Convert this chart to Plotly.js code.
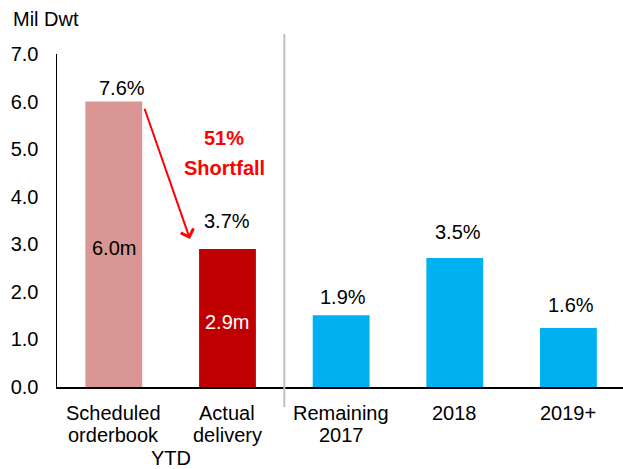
<!DOCTYPE html>
<html>
<head>
<meta charset="utf-8">
<script src="https://cdn.plot.ly/plotly-3.0.1.min.js"></script>
<style>
  html, body { margin: 0; padding: 0; background: #fff; }
  #chart { width: 623px; height: 469px; }
</style>
</head>
<body>
<div id="chart"></div>
<script>
// Data
const categories = ['Scheduled orderbook', 'Actual delivery', 'Remaining 2017', '2018', '2019+'];
const categoryLines = [['Scheduled', 'orderbook'], ['Actual', 'delivery'], ['Remaining', '2017'], ['2018'], ['2019+']];
const values = [6.0, 2.9, 1.51, 2.71, 1.24];
const pctLabels = ['7.6%', '3.7%', '1.9%', '3.5%', '1.6%'];
const innerLabels = ['6.0m', '2.9m', '', '', ''];
const barColors = ['#D99694', '#C00000', '#00B0F0', '#00B0F0', '#00B0F0'];
const innerColors = ['#000000', '#FFFFFF', '#000000', '#000000', '#000000'];

// label offsets above the bars (px)
const pctShiftY = [14, 28, 18, 26, 23];
const pctShiftX = [8, 0, 2, 3, 3];

const FONT = 'Arial, "Liberation Sans", sans-serif';

const trace = {
    type: 'bar',
    x: categories,
    y: values,
    width: 0.5,
    marker: { color: barColors, line: { width: 0 } },
    hoverinfo: 'skip'
};

const annotations = [];

// category axis: annotations use the category index, so '2018' is not read as a number
categories.forEach((c, i) => {
    annotations.push({
        x: i, y: values[i], xref: 'x', yref: 'y',
        text: pctLabels[i], showarrow: false,
        yanchor: 'middle', yshift: pctShiftY[i], xshift: pctShiftX[i],
        font: { family: FONT, size: 20, color: '#000' }
    });
    if (innerLabels[i]) {
        annotations.push({
            x: i, y: values[i] / 2, xref: 'x', yref: 'y',
            text: innerLabels[i], showarrow: false,
            yanchor: 'middle', yshift: -4,
            font: { family: FONT, size: 20, color: innerColors[i] }
        });
    }
    // category labels, one annotation per line
    categoryLines[i].forEach((line, j) => {
        annotations.push({
            x: i, y: 0, xref: 'x', yref: 'paper',
            text: line, showarrow: false,
            yanchor: 'middle', yshift: -26 - j * 22,
            font: { family: FONT, size: 20, color: '#000' }
        });
    });
});

// "YTD" spans the first two bars
annotations.push({
    x: 0.5, y: 0, xref: 'x', yref: 'paper',
    text: 'YTD', showarrow: false,
    yanchor: 'middle', yshift: -71,
    font: { family: FONT, size: 20, color: '#000' }
});

// shortfall callout
annotations.push({
    x: 0.97, y: 5.23, xref: 'x', yref: 'y', text: '<b>51%</b>', showarrow: false,
    font: { family: FONT, size: 20, color: '#FF0000' }
});
annotations.push({
    x: 0.97, y: 4.6, xref: 'x', yref: 'y', text: '<b>Shortfall</b>', showarrow: false,
    font: { family: FONT, size: 20, color: '#FF0000' }
});
annotations.push({
    x: 0.67, y: 3.11, xref: 'x', yref: 'y',
    ax: 0.266, ay: 5.88, axref: 'x', ayref: 'y',
    text: '', showarrow: true,
    arrowcolor: '#FF0000', arrowwidth: 2, arrowhead: 4, arrowsize: 1.3
});

const layout = {
    width: 623,
    height: 469,
    margin: { l: 57, r: 0, t: 54, b: 82 },
    paper_bgcolor: '#fff',
    plot_bgcolor: '#fff',
    showlegend: false,
    font: { family: FONT, size: 20, color: '#000' },
    title: {
        text: 'Mil Dwt',
        font: { family: FONT, size: 20, color: '#000' },
        xref: 'container', yref: 'container',
        x: 13 / 623, xanchor: 'left',
        y: 1 - 19 / 469, yanchor: 'middle'
    },
    xaxis: {
        type: 'category',
        range: [-0.5, 4.48],
        showticklabels: false,
        ticks: '',
        showgrid: false,
        zeroline: false,
        showline: true,
        linecolor: '#000',
        linewidth: 1.5,
        fixedrange: true
    },
    yaxis: {
        range: [0, 7],
        dtick: 1,
        tickformat: '.1f',
        ticks: 'outside',
        ticklen: 13,
        tickcolor: 'rgba(0,0,0,0)',
        tickfont: { family: FONT, size: 20, color: '#000' },
        showgrid: false,
        zeroline: false,
        showline: true,
        linecolor: '#000',
        linewidth: 1.5,
        fixedrange: true
    },
    shapes: [{
        type: 'line', xref: 'x', yref: 'paper',
        x0: 1.5, x1: 1.5, y0: -0.06, y1: 1.06,
        line: { color: '#BFBFBF', width: 2 }
    }],
    annotations: annotations
};

Plotly.newPlot('chart', [trace], layout, { displayModeBar: false, staticPlot: true });
</script>
</body>
</html>
